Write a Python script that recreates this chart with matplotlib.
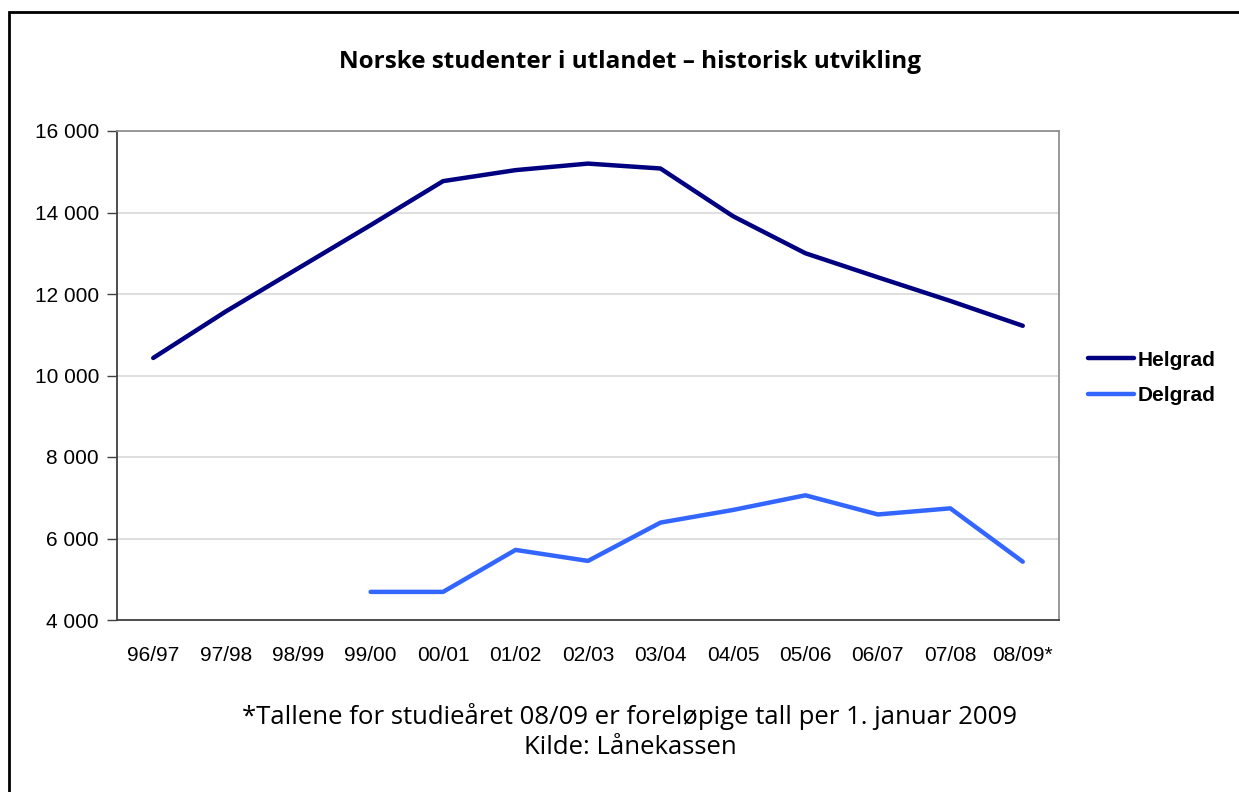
import matplotlib
matplotlib.use("Agg")
import matplotlib.pyplot as plt
from matplotlib.patches import Rectangle
from matplotlib.ticker import FuncFormatter
import numpy as np

categories = ["96/97", "97/98", "98/99", "99/00", "00/01", "01/02", "02/03",
              "03/04", "04/05", "05/06", "06/07", "07/08", "08/09*"]
helgrad = [10430, 11570, 12630, 13690, 14770, 15040, 15200, 15080,
           13910, 13000, 12410, 11830, 11220]
delgrad = [None, None, None, 4690, 4690, 5720, 5450, 6390, 6700,
           7060, 6590, 6740, 5430]

W, H = 1239, 792
fig = plt.figure(figsize=(W / 100, H / 100), dpi=100)
fig.patch.set_facecolor("white")

# outer frame (only left/top visible in the reference)
fig.patches.append(Rectangle((9 / W, -0.05), 1.2, (H - 12) / H + 0.05,
                             transform=fig.transFigure, fill=False,
                             edgecolor="black", linewidth=2, zorder=0))

left, right, top, bottom = 117, 1059, 131, 620
ax = fig.add_axes([left / W, 1 - bottom / H, (right - left) / W, (bottom - top) / H])

x = np.arange(len(categories))
d = np.array([np.nan if v is None else v for v in delgrad], dtype=float)
ax.plot(x, helgrad, color="#000080", lw=3.2, solid_capstyle="round",
        solid_joinstyle="round", label="Helgrad", zorder=3)
ax.plot(x, d, color="#3366FF", lw=3.2, solid_capstyle="round",
        solid_joinstyle="round", label="Delgrad", zorder=3)

ax.set_xlim(-0.5, len(categories) - 0.5)
ax.set_ylim(4000, 16000)
ax.set_yticks(np.arange(4000, 16001, 2000))
ax.yaxis.set_major_formatter(FuncFormatter(lambda v, p: f"{int(v):,}".replace(",", " ")))
ax.set_xticks(x)
ax.set_xticklabels(categories)
ax.grid(axis="y", color="#d9d9d9", lw=1.2, zorder=0)
ax.set_axisbelow(True)

for s in ["left", "bottom"]:
    ax.spines[s].set_color("#404040")
    ax.spines[s].set_linewidth(1.3)
for s in ["top", "right"]:
    ax.spines[s].set_color("#909090")
    ax.spines[s].set_linewidth(1.3)

ax.tick_params(axis="y", direction="out", length=7, width=1, color="#404040",
               labelsize=15, pad=6)
ax.tick_params(axis="x", length=0, labelsize=15, pad=19)
for lbl in ax.get_xticklabels() + ax.get_yticklabels():
    lbl.set_fontfamily("Liberation Sans")

fig.text(630 / W, 1 - 62 / H, "Norske studenter i utlandet \u2013 historisk utvikling",
         ha="center", va="center", fontsize=17.5, fontweight="bold",
         family=["Open Sans", "DejaVu Sans"])

fig.text(630 / W, 1 - 716 / H,
         "*Tallene for studieåret 08/09 er foreløpige tall per 1. januar 2009",
         ha="center", va="center", fontsize=18.5, family=["Open Sans", "DejaVu Sans"])
fig.text(630 / W, 1 - 747 / H, "Kilde: Lånekassen",
         ha="center", va="center", fontsize=18.5, family=["Open Sans", "DejaVu Sans"])

leg = fig.legend(loc="upper left", bbox_to_anchor=(1069 / W, 1 - 332 / H),
                 frameon=False, handlelength=2.2, handletextpad=0.2,
                 labelspacing=0.8, prop={"family": "Liberation Sans",
                                         "weight": "bold", "size": 15})

fig.savefig("out.png", dpi=100)
